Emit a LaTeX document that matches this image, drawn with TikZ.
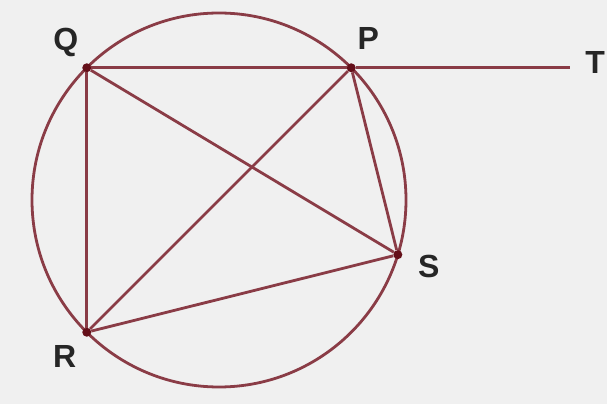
\documentclass[tikz,border=0pt]{standalone}
\usepackage{fontspec}
\setmainfont{Liberation Sans}
\usetikzlibrary{calc}
\definecolor{chordred}{RGB}{138,60,70}
\definecolor{dotred}{RGB}{100,15,25}
\definecolor{paper}{RGB}{240,240,240}
\tikzset{
    chord/.style={
        draw=chordred,line width=2.8pt
    },
    vertex/.style={
        circle,fill=dotred,inner sep=0pt,minimum size=9pt
    },
    ptlabel/.style={
        font=\fontsize{32}{32}\selectfont\bfseries,text=black!85,inner sep=0pt
    }
}

\begin{document}
\begin{tikzpicture}[x=1pt,y=1pt]

\fill[paper] (0,0) rectangle (607,404);
\useasboundingbox (0,0) rectangle (607,404);

\coordinate (O) at (219,204);
\draw[chord] (O) circle[radius=187];

\node[vertex] (Q) at ($(O)+(135:187)$) {};
\node[vertex] (P) at ($(O)+(45:187)$) {};
\node[vertex] (S) at ($(O)+(-17:187)$) {};
\node[vertex] (R) at ($(O)+(225:187)$) {};
\coordinate (T) at ($(P)+(219,0)$);

\draw[chord] (Q) -- (P) -- (T);
\draw[chord] (Q) -- (R);
\draw[chord] (Q) -- (S);
\draw[chord] (R) -- (P);
\draw[chord] (R) -- (S);
\draw[chord] (P) -- (S);

\node[ptlabel] (lblQ) at ($(Q)+(-21,25)$) {Q};
\node[ptlabel] (lblP) at ($(P)+(17,29)$) {P};
\node[ptlabel] (lblS) at ($(S)+(31,-12)$) {S};
\node[ptlabel] (lblR) at ($(R)+(-22,-24)$) {R};
\node[ptlabel] (lblT) at ($(T)+(25,5)$) {T};

\end{tikzpicture}
\end{document}
